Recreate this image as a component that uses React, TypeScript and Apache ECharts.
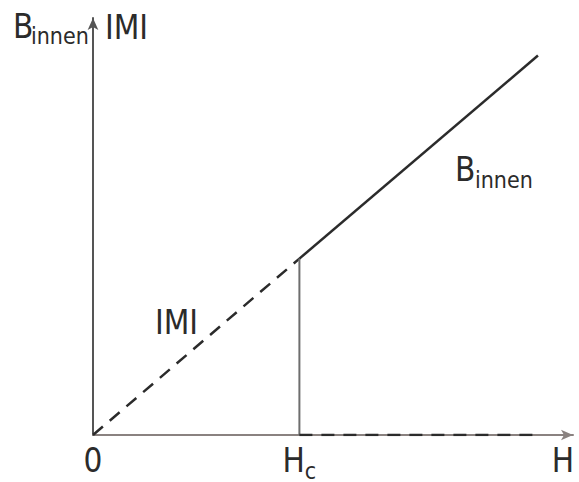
import React, { useEffect, useRef } from "react";
import * as echarts from "echarts";

// Field strengths (arbitrary units) and inner flux density values
const H_C = 4.3;
const H_END = 9.27;
const H_LABEL_POS = 9.79;
const B_AT_HC = 4.23;
const B_AT_END = 9.1;

// |M| rises with H up to Hc (dashed), B_innen is zero below Hc and grows above it
const magnetization: number[][] = [[0, 0], [H_C, B_AT_HC]];
const bInnenUpper: number[][] = [[H_C, B_AT_HC], [H_END, B_AT_END]];
const criticalDrop: number[][] = [[H_C, 0], [H_C, B_AT_HC]];
const bInnenZero: number[][] = [[H_C, 0], [H_END, 0]];

const tickValues: number[] = [0, H_C, H_LABEL_POS];
const tickLabels: string[] = ["{m|0}", "{m|H}{s|c}", "{m|H}"];

const FONT = "'Liberation Sans Narrow', 'DejaVu Sans Condensed', 'Noto Sans', sans-serif";
const INK = "#2b2b2b";

export default function App() {
  const ref = useRef<HTMLDivElement>(null);

  useEffect(() => {
    if (!ref.current) return;
    const chart = echarts.init(ref.current, null, { renderer: "svg" });

    const mainSize = 33;
    const subSize = 23;
    const txt = (text: string, x: number, baseline: number, size: number) => ({
      type: "text",
      x,
      y: baseline - 0.39 * size,
      style: {
        text,
        fill: INK,
        fontSize: size,
        fontFamily: FONT,
        align: "left",
        verticalAlign: "middle",
      },
    });

    chart.setOption({
      animation: false,
      backgroundColor: "#ffffff",
      grid: { left: 93, right: 6, top: 18, bottom: 47, outerBoundsMode: "none", containLabel: false },
      xAxis: {
        type: "value",
        min: 0,
        max: 10,
        splitLine: { show: false },
        axisTick: { show: false },
        axisLine: {
          show: true,
          symbol: ["none", "arrow"],
          symbolSize: [8, 12],
          lineStyle: { color: "#8a8280", width: 2 },
        },
        axisLabel: {
          customValues: tickValues,
          margin: 9,
          formatter: (v: number) => {
            const i = tickValues.findIndex((t) => Math.abs(t - v) < 1e-6);
            return i >= 0 ? tickLabels[i] : "";
          },
          rich: {
            m: { fontSize: mainSize, fontFamily: FONT, color: INK, lineHeight: 38, verticalAlign: "top" },
            s: { fontSize: subSize, fontFamily: FONT, color: INK, lineHeight: 24, verticalAlign: "bottom" },
          },
        },
      },
      yAxis: {
        type: "value",
        min: 0,
        max: 10,
        splitLine: { show: false },
        axisTick: { show: false },
        axisLabel: { show: false },
        axisLine: {
          show: true,
          symbol: ["none", "arrow"],
          symbolSize: [8, 12],
          lineStyle: { color: "#555555", width: 2 },
        },
      },
      series: [
        {
          name: "|M|",
          type: "line",
          data: magnetization,
          symbol: "none",
          lineStyle: { color: INK, width: 2.5, type: [13, 9] },
        },
        {
          name: "Hc",
          type: "line",
          data: criticalDrop,
          symbol: "none",
          lineStyle: { color: "#6e6e6e", width: 2 },
        },
        {
          name: "B_innen",
          type: "line",
          data: bInnenUpper,
          symbol: "none",
          lineStyle: { color: INK, width: 2.5 },
        },
        {
          name: "B_innen = 0",
          type: "line",
          data: bInnenZero,
          symbol: "none",
          lineStyle: { color: INK, width: 2.5, type: [13, 9] },
        },
      ],
      graphic: [
        txt("B", 13, 39, mainSize),
        txt("innen", 31, 45, subSize),
        txt("IMI", 105, 40, mainSize),
        txt("IMI", 155, 335, mainSize),
        txt("B", 455, 182, mainSize),
        txt("innen", 475, 189, subSize),
      ],
    });

    return () => chart.dispose();
  }, []);

  return (
    <div
      ref={ref}
      style={{ position: "fixed", left: 0, top: 0, width: 579, height: 482 }}
    />
  );
}
